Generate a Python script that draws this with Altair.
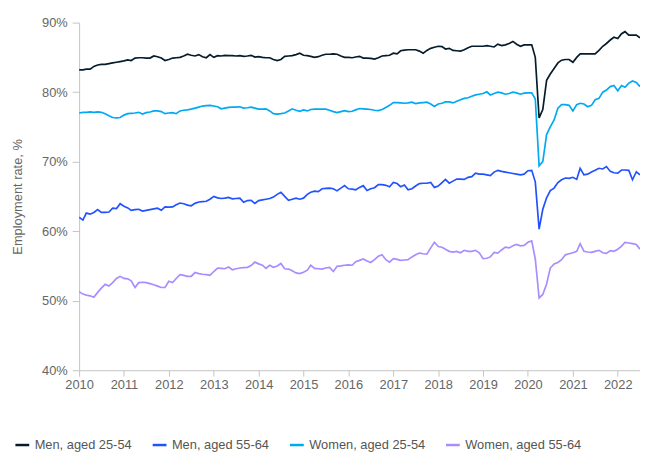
import altair as alt
import pandas as pd

start_month = "2010-01-01"
years = list(range(2010, 2023))
y_ticks = [40, 50, 60, 70, 80, 90]
series_names = ["Men, aged 25-54", "Men, aged 55-64", "Women, aged 25-54", "Women, aged 55-64"]
series_colors = ["#051c2c", "#2251ff", "#00a9f4", "#a98cff"]

men_25_54 = [
    83.2, 83.2, 83.3, 83.3, 83.7, 83.9, 84.0, 84.0, 84.1, 84.2, 84.3, 84.4,
    84.5, 84.65, 84.55, 84.9, 84.95, 84.95, 84.9, 84.9, 85.2, 85.1, 84.9, 84.55,
    84.7, 84.9, 84.95, 85.0, 85.2, 85.45, 85.3, 85.2, 85.4, 85.1, 84.95, 85.4,
    85.0, 85.25, 85.2, 85.3, 85.25, 85.25, 85.2, 85.25, 85.15, 85.2, 85.3, 85.05,
    85.1, 85.0, 84.95, 84.95, 84.7, 84.55, 84.7, 85.15, 85.2, 85.25, 85.4, 85.6,
    85.3, 85.25, 85.15, 85.0, 85.1, 85.3, 85.45, 85.45, 85.5, 85.45, 85.2, 85.0,
    85.0, 84.95, 85.05, 85.15, 84.9, 84.9, 84.85, 84.75, 84.95, 85.2, 85.25, 85.3,
    85.6, 85.5, 85.95, 86.05, 86.1, 86.1, 86.1, 85.9, 85.6, 86.0, 86.3, 86.45,
    86.6, 86.55, 86.2, 86.3, 86.0, 85.95, 85.9, 86.1, 86.4, 86.6, 86.6, 86.6,
    86.6, 86.7, 86.6, 86.5, 86.9, 86.7, 86.8, 87.0, 87.3, 86.9, 86.6, 86.8,
    86.8, 86.8, 85.0, 76.3, 77.5, 81.7, 82.6, 83.4, 84.2, 84.6, 84.7, 84.7,
    84.3, 85.0, 85.5, 85.5, 85.5, 85.5, 85.5, 86.0, 86.6, 87.0, 87.5, 87.9,
    87.7, 88.4, 88.7, 88.2, 88.2, 88.2, 87.8,
]
men_55_64 = [
    62.0, 61.6, 62.6, 62.45, 62.7, 63.1, 62.7, 62.7, 62.75, 63.3, 63.25, 63.95,
    63.6, 63.35, 63.0, 63.1, 63.15, 62.9, 63.0, 63.1, 63.2, 63.3, 63.0, 63.5,
    63.45, 63.5, 63.8, 64.05, 63.95, 63.75, 63.65, 64.0, 64.2, 64.25, 64.3, 64.6,
    65.0, 64.8, 64.7, 64.75, 64.85, 64.65, 64.7, 64.75, 64.15, 64.4, 64.45, 64.0,
    64.4, 64.5, 64.6, 64.7, 64.9, 65.3, 65.6, 65.0, 64.45, 64.6, 64.75, 64.6,
    64.75, 65.3, 65.6, 65.75, 65.7, 66.1, 66.15, 66.2, 66.1, 65.8, 66.2, 66.55,
    66.1, 66.05, 65.95, 66.3, 66.55, 65.85, 66.1, 66.25, 66.7, 66.7, 66.6, 66.4,
    67.0, 66.85, 66.4, 66.65, 65.95, 66.1, 66.5, 66.85, 66.9, 66.9, 67.0, 66.3,
    66.5, 67.0, 67.45, 66.9, 67.2, 67.5, 67.5, 67.45, 67.75, 67.85, 68.35, 68.2,
    68.2, 68.1, 68.0, 68.5, 68.75, 68.6, 68.5, 68.4, 68.3, 68.2, 68.1, 68.2,
    68.7, 68.75, 67.1, 60.3, 63.15, 64.8, 65.85, 66.2, 67.0, 67.4, 67.65, 67.6,
    67.75, 67.45, 69.05, 68.1, 68.2, 68.5, 68.75, 69.05, 68.95, 69.3, 68.6, 68.4,
    68.35, 68.8, 68.8, 68.75, 67.4, 68.55, 68.1,
]
women_25_54 = [
    77.0, 77.1, 77.1, 77.15, 77.1, 77.15, 77.1, 76.9, 76.6, 76.35, 76.3, 76.35,
    76.7, 76.9, 76.95, 77.0, 77.1, 76.85, 77.05, 77.15, 77.3, 77.3, 77.2, 76.9,
    77.0, 77.05, 76.9, 77.3, 77.4, 77.45, 77.55, 77.7, 77.85, 78.0, 78.05, 78.1,
    78.0, 77.9, 77.6, 77.7, 77.8, 77.85, 77.85, 77.9, 77.7, 77.75, 77.85, 77.7,
    77.55, 77.55, 77.6, 77.3, 76.9, 76.85, 76.9, 77.0, 77.3, 77.6, 77.4, 77.25,
    77.45, 77.3, 77.5, 77.55, 77.55, 77.55, 77.55, 77.4, 77.2, 77.05, 77.2, 77.35,
    77.2, 77.25, 77.45, 77.65, 77.6, 77.55, 77.5, 77.4, 77.35, 77.5, 77.8, 78.1,
    78.5, 78.5, 78.45, 78.4, 78.45, 78.55, 78.35, 78.45, 78.5, 78.55, 78.3, 77.95,
    78.3, 78.4, 78.6, 78.6, 78.45, 78.7, 78.9, 79.1, 79.2, 79.4, 79.6, 79.7,
    79.8, 80.05, 79.6, 79.8, 80.0, 79.9, 79.7, 79.8, 80.0, 79.9, 79.7, 79.85,
    79.9, 79.9, 79.0, 69.4, 70.0, 73.9, 75.0, 76.0, 77.7, 78.2, 78.2, 78.1,
    77.3, 78.2, 78.4, 78.3, 77.9, 78.1, 78.9, 79.1, 80.0, 80.3, 80.8, 80.95,
    80.2, 80.95, 80.7, 81.3, 81.6, 81.4, 80.8,
]
women_55_64 = [
    51.3, 50.95, 50.8, 50.7, 50.5, 51.2, 51.8, 52.35, 52.1, 52.6, 53.2, 53.5,
    53.2, 53.15, 52.85, 51.9, 52.6, 52.65, 52.6, 52.45, 52.3, 52.1, 51.9, 51.9,
    52.8, 52.6, 53.2, 53.75, 53.65, 53.5, 53.5, 54.05, 53.9, 53.8, 53.75, 53.65,
    54.2, 54.7, 54.65, 54.6, 54.85, 54.45, 54.6, 54.7, 54.75, 54.8, 55.05, 55.55,
    55.3, 55.1, 54.65, 55.1, 54.8, 55.0, 55.35, 54.6, 54.55, 54.3, 54.0, 53.9,
    54.1, 54.4, 55.1, 54.65, 54.6, 54.55, 54.7, 54.8, 54.2, 54.95, 55.0, 55.1,
    55.15, 55.1, 55.6, 55.8, 56.0, 55.7, 55.5, 55.9, 56.4, 56.6, 55.9, 55.55,
    56.05, 55.95, 55.8, 55.85, 55.9, 56.3, 56.6, 56.85, 56.75, 56.7, 57.6, 58.4,
    57.8, 57.7, 57.4, 57.1, 57.0, 57.1, 56.9, 57.25, 57.1, 57.1, 57.25, 56.9,
    56.05, 56.1, 56.3, 56.95, 56.85, 57.3, 57.7, 57.6, 57.9, 58.1, 57.9, 57.95,
    58.4, 58.6, 56.0, 50.4, 50.9, 52.4, 54.7, 55.3, 55.5, 55.9, 56.6, 56.75,
    56.9, 57.1, 58.2, 57.1, 57.0, 56.95, 57.1, 57.25, 56.9, 56.8, 57.2, 57.1,
    57.4, 57.85, 58.4, 58.3, 58.2, 58.1, 57.4,
]

rows = []
for name, vals in zip(series_names, [men_25_54, men_55_64, women_25_54, women_55_64]):
    dates = pd.date_range(start_month, periods=len(vals), freq="MS")
    for d, v in zip(dates, vals):
        rows.append({"date": d.strftime("%Y-%m-%d"), "series": name, "value": v})
df = pd.DataFrame(rows)

FONT = "Liberation Sans"
GRAY = "#666666"
AXIS_GRAY = "#c4c4c4"

chart = alt.Chart(df).mark_line(strokeWidth=1.7, clip=True).encode(
    x=alt.X(
        "date:T",
        scale=alt.Scale(domain=[alt.DateTime(year=2010, month=1, date=1),
                                alt.DateTime(year=2022, month=7, date=1)]),
        axis=alt.Axis(
            values=[alt.DateTime(year=y, month=1, date=1) for y in years],
            format="%Y", title=None, grid=False, tickSize=6, labelPadding=3,
            labelFontSize=13, labelColor=GRAY, labelFont=FONT,
            domainColor=AXIS_GRAY, tickColor=AXIS_GRAY, labelFlush=False,
        ),
    ),
    y=alt.Y(
        "value:Q",
        scale=alt.Scale(domain=[40, 90], nice=False, zero=False),
        axis=alt.Axis(
            values=y_ticks, labelExpr="datum.value + '%'", grid=False,
            tickSize=7, labelPadding=5, labelFontSize=13, labelColor=GRAY,
            labelFont=FONT, domainColor=AXIS_GRAY, tickColor=AXIS_GRAY,
            title="Employment rate, %", titleFontSize=13, titleFontWeight="normal",
            titleColor=GRAY, titleFont=FONT, titleAngle=270, titleX=-62, titleY=176,
            titleAlign="center", titleBaseline="middle",
        ),
    ),
    color=alt.Color(
        "series:N",
        scale=alt.Scale(domain=series_names, range=series_colors),
        legend=alt.Legend(
            title=None, orient="none", direction="horizontal", legendX=-66, legendY=419,
            symbolType="stroke", symbolSize=196, symbolStrokeWidth=2.5,
            labelFontSize=13, labelColor="#555555", labelFont=FONT,
            columnPadding=15, labelOffset=4, padding=0,
        ),
    ),
).properties(
    width=568, height=352,
    padding={"left": 72, "top": 12, "right": 0, "bottom": 80},
    autosize=alt.AutoSizeParams(type="none"),
).configure_view(stroke=None)

chart.save("out.html", embed_options={"renderer": "svg", "actions": False})
